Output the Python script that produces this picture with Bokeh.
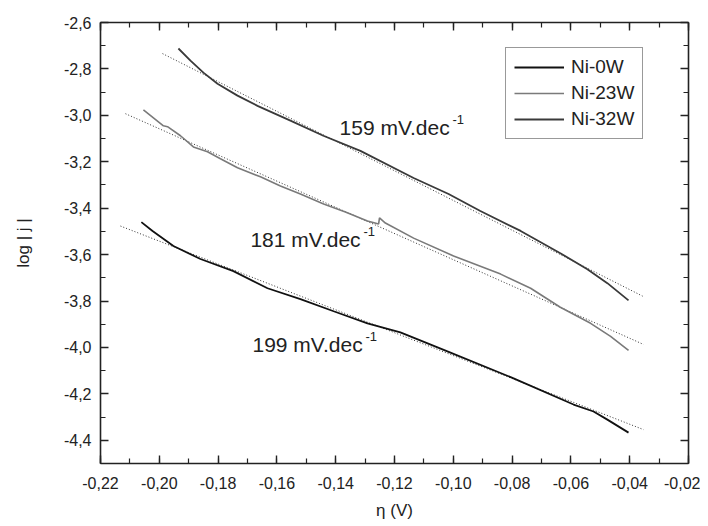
from bokeh.plotting import figure
from bokeh.models import (LinearAxis, SingleIntervalTicker, CustomJSTickFormatter,
                          Legend, LegendItem, Range1d)
from bokeh.core.properties import value
from bokeh.embed import file_html
from bokeh.resources import INLINE

# ---- data ----
eta_0w = [-0.2061, -0.2023, -0.1952, -0.1860, -0.1748, -0.1632, -0.1520, -0.1407,
          -0.1292, -0.1180, -0.1020, -0.0795, -0.0591, -0.0523, -0.0476, -0.0404]
logj_0w = [-3.460, -3.498, -3.563, -3.619, -3.671, -3.745, -3.792, -3.844,
           -3.896, -3.935, -4.017, -4.133, -4.246, -4.276, -4.311, -4.367]

eta_23w = [-0.2054, -0.1986, -0.1972, -0.1928, -0.1884, -0.1836, -0.1792, -0.1734,
           -0.1656, -0.1588, -0.1520, -0.1441, -0.1367, -0.1292, -0.1254, -0.1251,
           -0.1231, -0.1135, -0.0999, -0.0839, -0.0737, -0.0636, -0.0533, -0.0465, -0.0404]
logj_23w = [-2.976, -3.045, -3.049, -3.088, -3.136, -3.157, -3.187, -3.226,
            -3.265, -3.304, -3.339, -3.382, -3.416, -3.455, -3.468, -3.442,
            -3.464, -3.529, -3.606, -3.684, -3.745, -3.827, -3.896, -3.952, -4.013]

eta_32w = [-0.1935, -0.1894, -0.1850, -0.1802, -0.1734, -0.1666, -0.1554, -0.1442,
           -0.1316, -0.1135, -0.1016, -0.0908, -0.0771, -0.0636, -0.0544, -0.0476, -0.0404]
logj_32w = [-2.712, -2.764, -2.816, -2.864, -2.915, -2.959, -3.023, -3.088,
            -3.153, -3.270, -3.339, -3.412, -3.498, -3.594, -3.663, -3.723, -3.797]

# Tafel fit lines (end points)
fit_0w_x = [-0.2132, -0.0353]
fit_0w_y = [-3.477, -4.354]
fit_23w_x = [-0.2115, -0.0353]
fit_23w_y = [-2.993, -3.987]
fit_32w_x = [-0.1989, -0.0356]
fit_32w_y = [-2.734, -3.779]

series_names = ["Ni-0W", "Ni-23W", "Ni-32W"]
ann_x = [-0.1387, -0.1690, -0.1683]
ann_y = [-3.054, -3.533, -3.987]
ann_text = ["159 mV.dec", "181 mV.dec", "199 mV.dec"]
ann_sup = ["-1", "-1", "-1"]

FONT = "Liberation Sans"

p = figure(width=700, height=526, output_backend="svg", toolbar_location=None,
           x_range=Range1d(-0.22, -0.02), y_range=Range1d(-4.5, -2.6),
           x_axis_location=None, y_axis_location=None,
           min_border_left=100, min_border_right=12, min_border_top=22, min_border_bottom=63)
p.outline_line_color = None
p.grid.grid_line_color = None
p.background_fill_color = "white"
p.border_fill_color = "white"

xfmt = CustomJSTickFormatter(code="return tick.toFixed(2).replace('.', ',');")
yfmt = CustomJSTickFormatter(code="return tick.toFixed(1).replace('.', ',');")
blank = CustomJSTickFormatter(code="return '';")


def make_axis(interval, fmt, show):
    ax = LinearAxis(ticker=SingleIntervalTicker(interval=interval, num_minor_ticks=2),
                    formatter=fmt if show else blank)
    ax.axis_line_width = 1.6
    ax.axis_line_color = "#222222"
    ax.major_tick_in = 8
    ax.major_tick_out = 0
    ax.minor_tick_in = 5
    ax.minor_tick_out = 0
    ax.major_tick_line_width = 1.4
    ax.minor_tick_line_width = 1.2
    ax.major_tick_line_color = "#222222"
    ax.minor_tick_line_color = "#222222"
    ax.major_label_text_font = FONT
    ax.major_label_text_font_size = "16px"
    if show:
        ax.major_label_text_color = "#222222"
    else:
        ax.major_label_text_color = None
        ax.major_label_standoff = 0
    return ax


xb = make_axis(0.02, xfmt, True)
xb.major_label_standoff = 13
xb.axis_label = "η (V)"
xb.axis_label_text_font = FONT
xb.axis_label_text_font_size = "17px"
xb.axis_label_text_font_style = "normal"
xb.axis_label_text_color = "#222222"
xb.axis_label_standoff = 9
p.add_layout(xb, "below")

yl = make_axis(0.2, yfmt, True)
yl.major_label_standoff = 9
yl.axis_label = "log | j |"
yl.axis_label_text_font = FONT
yl.axis_label_text_font_size = "17px"
yl.axis_label_text_font_style = "normal"
yl.axis_label_text_color = "#222222"
yl.axis_label_standoff = 28
p.add_layout(yl, "left")

p.add_layout(make_axis(0.02, xfmt, False), "above")
p.add_layout(make_axis(0.2, yfmt, False), "right")

# fit lines
for fx, fy in [(fit_0w_x, fit_0w_y), (fit_23w_x, fit_23w_y), (fit_32w_x, fit_32w_y)]:
    p.line(fx, fy, line_color="#333333", line_width=1, line_dash="1 2")

r0 = p.line(eta_0w, logj_0w, line_color="#111111", line_width=1.8)
r1 = p.line(eta_23w, logj_23w, line_color="#7a7a7a", line_width=1.6)
r2 = p.line(eta_32w, logj_32w, line_color="#3a3a3a", line_width=1.8)

p.text(x=ann_x, y=ann_y, text=ann_text, text_font=value(FONT), text_font_size="21px",
       text_align="left", text_baseline="middle", text_color="#222222")
p.text(x=ann_x, y=ann_y, text=ann_sup, text_font=value(FONT), text_font_size="13px",
       text_align="left", text_baseline="middle", text_color="#222222",
       x_offset=113, y_offset=-8)

legend = Legend(items=[LegendItem(label=series_names[0], renderers=[r0]),
                       LegendItem(label=series_names[1], renderers=[r1]),
                       LegendItem(label=series_names[2], renderers=[r2])],
                location=(405, 324))
legend.label_text_font = FONT
legend.label_text_font_size = "19px"
legend.label_text_color = "#222222"
legend.glyph_width = 50
legend.glyph_height = 20
legend.label_height = 20
legend.label_standoff = 7
legend.spacing = 4
legend.padding = 8
legend.margin = 0
legend.border_line_color = "#333333"
legend.border_line_width = 1
legend.background_fill_alpha = 1
p.add_layout(legend, "center")

open("out.html", "w").write(file_html(p, INLINE))
